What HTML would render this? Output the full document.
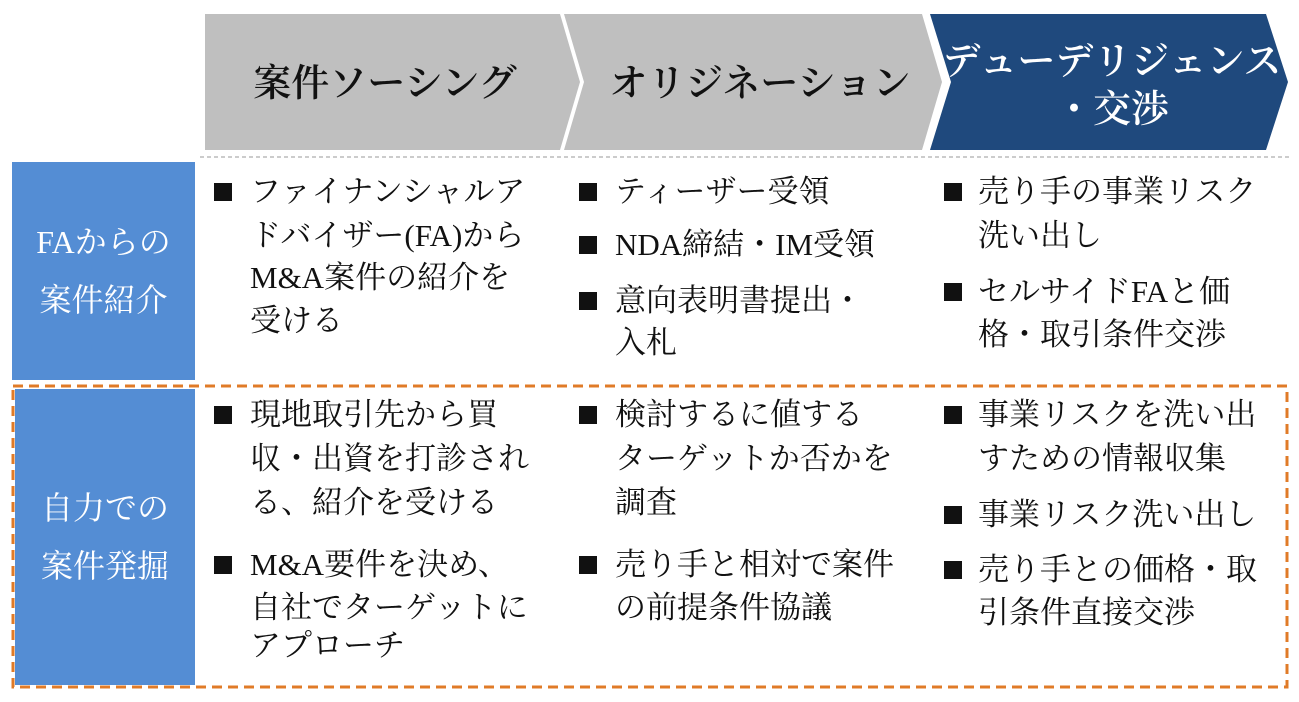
<!DOCTYPE html>
<html><head><meta charset="utf-8"><style>
body{margin:0;width:1299px;height:702px;background:#fff;position:relative;overflow:hidden;font-family:"Liberation Serif","Noto Serif CJK SC",serif;}
.t{position:absolute;font-size:31px;line-height:36px;color:#111;white-space:nowrap;}
.b{position:absolute;width:18px;height:18px;background:#111;}
.lb{position:absolute;background:#548dd4;color:#fff;font-size:32px;line-height:58px;text-align:center;display:flex;align-items:center;justify-content:center;}
</style></head><body>
<svg width="1299" height="702" style="position:absolute;left:0;top:0">
<polygon points="205,14 560,14 580,82 560,150 205,150" fill="#bfbfbf"/>
<polygon points="564,14 922,14 942,82 922,150 564,150 584,82" fill="#bfbfbf"/>
<polygon points="930,14 1266,14 1288,82 1266,150 930,150 951,82" fill="#1f497d"/>
<line x1="200" y1="157" x2="1292" y2="157" stroke="#bbb" stroke-width="1.5" stroke-dasharray="4,3"/>
<rect x="13" y="386" width="1274" height="301" fill="none" stroke="#e07b28" stroke-width="3" stroke-dasharray="10,6"/>
<g font-family="Liberation Serif,Noto Serif CJK SC,serif" font-size="38" font-weight="600" text-anchor="middle">
<text x="385" y="96" fill="#111">案件ソーシング</text>
<text x="760" y="96" fill="#111">オリジネーション</text>
<text x="1112" y="74" fill="#fff">デューデリジェンス</text>
<text x="1112" y="122" fill="#fff">・交渉</text>
</g>
</svg>
<div class="lb" style="left:12px;top:162px;width:183px;height:218px">FAからの<br>案件紹介</div>
<div class="lb" style="left:15px;top:389px;width:180px;height:296px">自力での<br>案件発掘</div>

<div class="b" style="left:214px;top:183px"></div>
<div class="t" style="left:250px;top:174px">ファイナンシャルア</div>
<div class="t" style="left:250px;top:218px">ドバイザー(FA)から</div>
<div class="t" style="left:250px;top:260px">M&amp;A案件の紹介を</div>
<div class="t" style="left:250px;top:303px">受ける</div>

<div class="b" style="left:579px;top:183px"></div>
<div class="t" style="left:615px;top:174px">ティーザー受領</div>
<div class="b" style="left:579px;top:236px"></div>
<div class="t" style="left:615px;top:227px">NDA締結・IM受領</div>
<div class="b" style="left:579px;top:292px"></div>
<div class="t" style="left:615px;top:283px">意向表明書提出・</div>
<div class="t" style="left:615px;top:325px">入札</div>

<div class="b" style="left:944px;top:183px"></div>
<div class="t" style="left:978px;top:174px">売り手の事業リスク</div>
<div class="t" style="left:978px;top:218px">洗い出し</div>
<div class="b" style="left:944px;top:283px"></div>
<div class="t" style="left:978px;top:274px">セルサイドFAと価</div>
<div class="t" style="left:978px;top:317px">格・取引条件交渉</div>

<div class="b" style="left:214px;top:406px"></div>
<div class="t" style="left:250px;top:397px">現地取引先から買</div>
<div class="t" style="left:250px;top:441px">収・出資を打診され</div>
<div class="t" style="left:250px;top:485px">る、紹介を受ける</div>
<div class="b" style="left:214px;top:556px"></div>
<div class="t" style="left:250px;top:547px">M&amp;A要件を決め、</div>
<div class="t" style="left:250px;top:590px">自社でターゲットに</div>
<div class="t" style="left:250px;top:628px">アプローチ</div>

<div class="b" style="left:579px;top:406px"></div>
<div class="t" style="left:615px;top:397px">検討するに値する</div>
<div class="t" style="left:615px;top:441px">ターゲットか否かを</div>
<div class="t" style="left:615px;top:485px">調査</div>
<div class="b" style="left:579px;top:556px"></div>
<div class="t" style="left:615px;top:547px">売り手と相対で案件</div>
<div class="t" style="left:615px;top:590px">の前提条件協議</div>

<div class="b" style="left:944px;top:406px"></div>
<div class="t" style="left:978px;top:397px">事業リスクを洗い出</div>
<div class="t" style="left:978px;top:441px">すための情報収集</div>
<div class="b" style="left:944px;top:506px"></div>
<div class="t" style="left:978px;top:497px">事業リスク洗い出し</div>
<div class="b" style="left:944px;top:561px"></div>
<div class="t" style="left:978px;top:552px">売り手との価格・取</div>
<div class="t" style="left:978px;top:595px">引条件直接交渉</div>
</body></html>
